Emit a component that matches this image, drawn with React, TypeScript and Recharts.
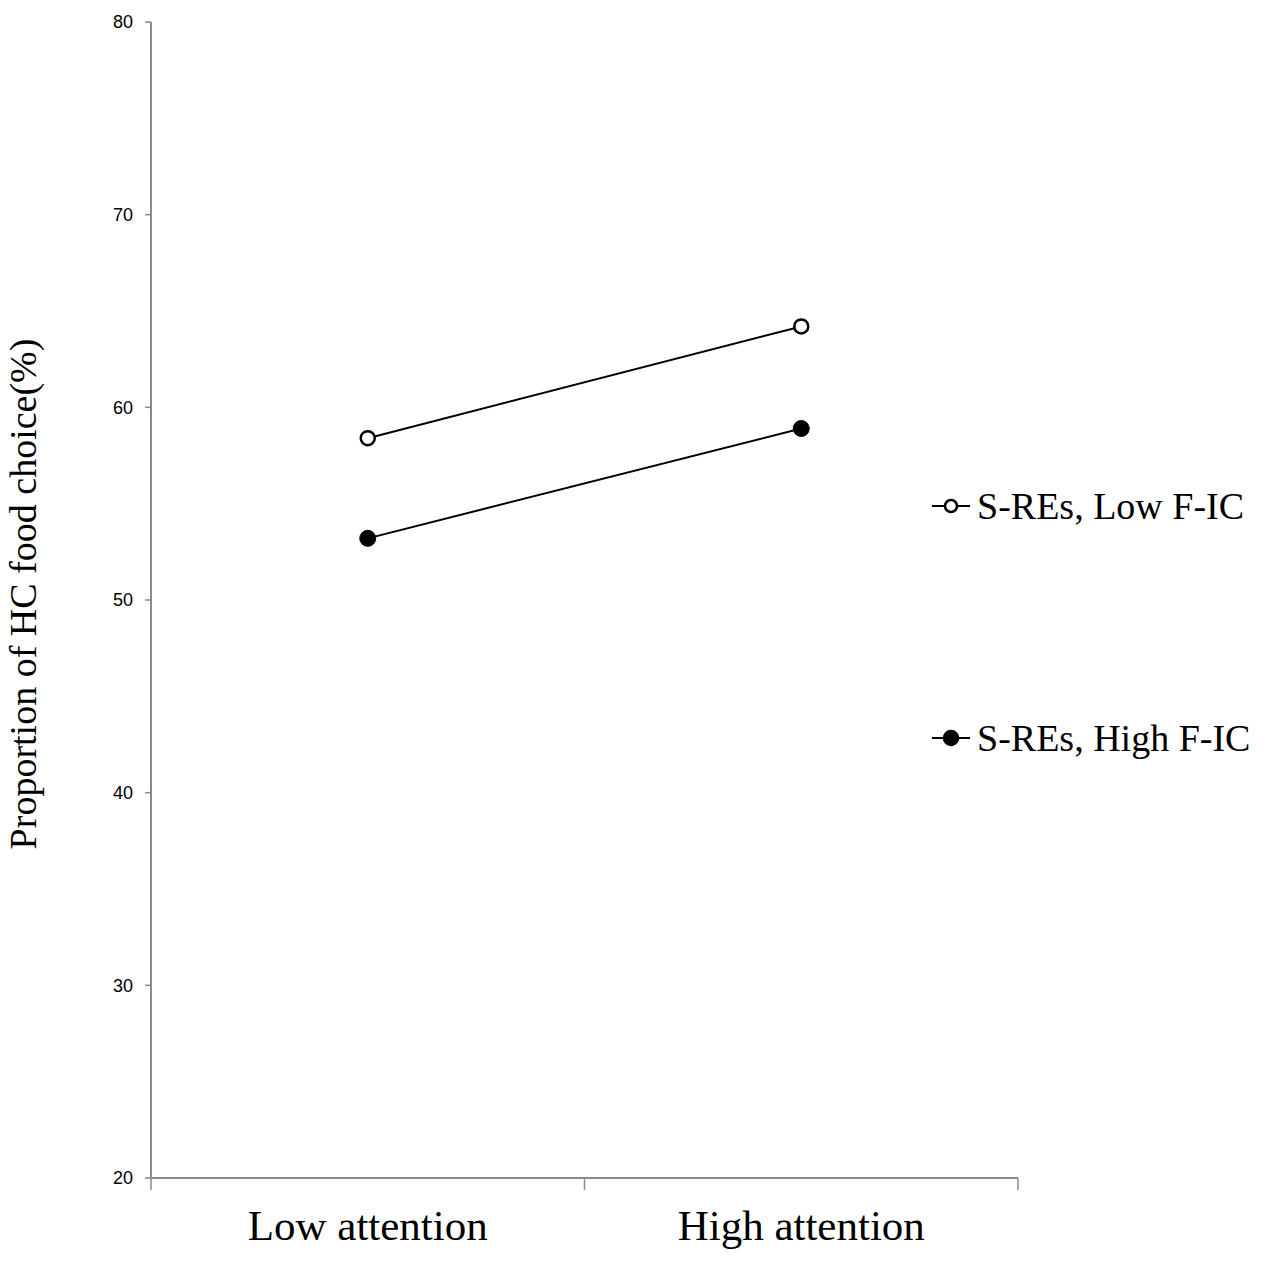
import React from 'react';
import { LineChart, Line, XAxis, YAxis, Legend } from 'recharts';

const categories = ['Low attention', 'High attention'];
const lowFicValues = [58.4, 64.2];
const highFicValues = [53.2, 58.9];
const yTicks = [20, 30, 40, 50, 60, 70, 80];

const series = [
  { key: 'lowFic', name: 'S-REs, Low F-IC', fill: '#ffffff' },
  { key: 'highFic', name: 'S-REs, High F-IC', fill: '#000000' },
];

// categories sit at the middle of their band, band edges get the tick marks
const data = categories.map((c, i) => ({
  category: c,
  pos: i + 0.5,
  lowFic: lowFicValues[i],
  highFic: highFicValues[i],
}));

const xTicks = [0, 0.5, 1, 1.5, 2];
const AXIS = '#8a8a8a';
const SERIF = '"Liberation Serif", "Times New Roman", serif';

function XTick(props: any) {
  const { x, y, payload } = props;
  const v = payload.value;
  if (Number.isInteger(v)) {
    return <line x1={x} y1={y} x2={x} y2={y + 12} stroke={AXIS} strokeWidth={1.5} />;
  }
  const idx = Math.floor(v);
  return (
    <text x={x} y={y + 62} textAnchor="middle" fontFamily={SERIF} fontSize={43} fill="#000">
      {categories[idx]}
    </text>
  );
}

function YLabel(props: any) {
  const { viewBox } = props;
  const cx = viewBox.x + 36;
  const cy = viewBox.y + viewBox.height / 2 - 6;
  return (
    <text
      x={cx}
      y={cy}
      transform={`rotate(-90, ${cx}, ${cy})`}
      textAnchor="middle"
      fontFamily={SERIF}
      fontSize={38}
      fill="#000"
    >
      Proportion of HC food choice(%)
    </text>
  );
}

function OpenDot(props: any) {
  const { cx, cy } = props;
  return <circle cx={cx} cy={cy} r={7} fill="#fff" stroke="#000" strokeWidth={2.5} />;
}

function FilledDot(props: any) {
  const { cx, cy } = props;
  return <circle cx={cx} cy={cy} r={8} fill="#000" stroke="#000" strokeWidth={1} />;
}

function LegendContent(props: any) {
  const payload = [...(props.payload || [])].sort(
    (a: any, b: any) =>
      series.findIndex((s) => s.key === a.dataKey) - series.findIndex((s) => s.key === b.dataKey)
  );
  return (
    <div>
      {payload.map((entry: any, i: number) => {
        const s = series.find((d) => d.key === entry.dataKey) || series[i];
        return (
          <div
            key={s.key}
            style={{ display: 'flex', alignItems: 'center', height: 40, marginBottom: i === 0 ? 192 : 0 }}
          >
            <svg width={47} height={40}>
              <line x1={2} y1={20} x2={40} y2={20} stroke="#000" strokeWidth={2} />
              <circle cx={21} cy={20} r={s.fill === '#000000' ? 7 : 6} fill={s.fill} stroke="#000" strokeWidth={2.5} />
            </svg>
            <span style={{ fontFamily: SERIF, fontSize: 38, color: '#000', whiteSpace: 'nowrap' }}>{s.name}</span>
          </div>
        );
      })}
    </div>
  );
}

export default function App() {
  return (
    <div style={{ position: 'absolute', left: 0, top: 0, width: 1267, height: 1266, background: '#fff' }}>
      <LineChart width={1267} height={1266} data={data} margin={{ top: 22, right: 249, left: 0, bottom: 0 }}>
        <XAxis
          type="number"
          dataKey="pos"
          domain={[0, 2]}
          ticks={xTicks}
          interval={0}
          height={88}
          tickSize={0}
          tickMargin={0}
          tickLine={false}
          axisLine={{ stroke: AXIS, strokeWidth: 2 }}
          tick={<XTick />}
        />
        <YAxis
          domain={[20, 80]}
          ticks={yTicks}
          interval={0}
          width={151}
          tickSize={6}
          tickMargin={12}
          axisLine={{ stroke: AXIS, strokeWidth: 2 }}
          tickLine={{ stroke: AXIS, strokeWidth: 1.5 }}
          tick={{ fill: '#000', fontSize: 18, fontFamily: '"Liberation Sans", Arial, sans-serif' }}
          label={<YLabel />}
        />
        <Legend
          layout="vertical"
          align="center"
          verticalAlign="middle"
          content={<LegendContent />}
          wrapperStyle={{ position: 'absolute', left: 930, top: 486, width: 337 }}
        />
        {series.map((s) => (
          <Line
            key={s.key}
            type="linear"
            dataKey={s.key}
            name={s.name}
            stroke="#000"
            strokeWidth={2}
            dot={s.fill === '#000000' ? <FilledDot /> : <OpenDot />}
            activeDot={false}
            isAnimationActive={false}
          />
        ))}
      </LineChart>
    </div>
  );
}
